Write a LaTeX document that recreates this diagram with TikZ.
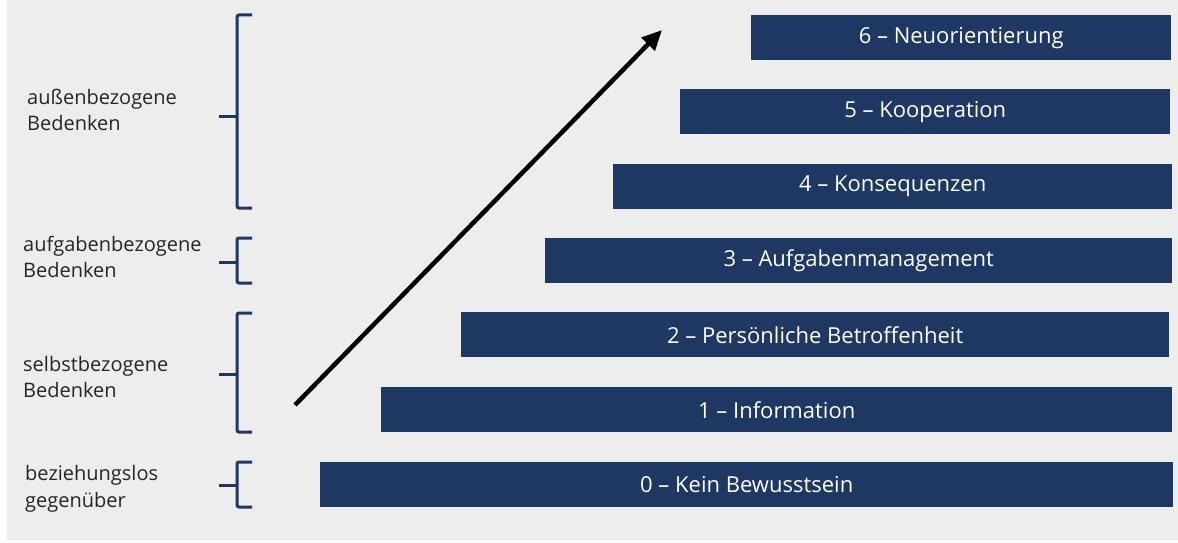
\documentclass[tikz,border=0pt]{standalone}
\usepackage{fontspec}
\setmainfont{Open Sans}
\usetikzlibrary{arrows.meta}
\definecolor{stufenblau}{RGB}{31,55,99}
\definecolor{hintergrund}{RGB}{237,237,237}
\definecolor{schrift}{RGB}{38,38,38}

\begin{document}
\begin{tikzpicture}[x=1pt,y=-1pt,
    stufe/.style={fill=stufenblau,text=white,minimum height=45pt,anchor=north west,inner sep=0pt,font=\fontsize{22}{26}\selectfont},
    klammer/.style={draw=stufenblau,line width=3pt,rounded corners=2pt},
    bedenken/.style={anchor=west,align=left,text=schrift,inner sep=0pt,font=\fontsize{20}{26.5}\selectfont}]
            \fill[white] (0,0) rectangle (1178,543);
            \fill[hintergrund] (7,0) rectangle (1178,540);

            % Stufen
            \node[stufe,minimum width=420pt] (s6) at (751,15) {6 -- Neuorientierung};
            \node[stufe,minimum width=490pt] (s5) at (680,89) {5 -- Kooperation};
            \node[stufe,minimum width=559pt] (s4) at (613,164) {4 -- Konsequenzen};
            \node[stufe,minimum width=627pt] (s3) at (545,238) {3 -- Aufgabenmanagement};
            \node[stufe,minimum width=708pt] (s2) at (461,312) {2 -- Persönliche Betroffenheit};
            \node[stufe,minimum width=791pt] (s1) at (381,387) {1 -- Information};
            \node[stufe,minimum width=853pt] (s0) at (320,462) {0 -- Kein Bewusstsein};

            % Pfeil
            \coordinate (pfeilanfang) at (295,405);
            \coordinate (pfeilende) at (662,30);
            \draw[line width=4.5pt,-{Triangle[length=20pt,width=18pt]}] (pfeilanfang) -- (pfeilende);

            % Klammern
            \draw[klammer] (252,15) -| (237,208) -- (252,208);
            \draw[klammer] (237,116) -- (219,116);
            \draw[klammer] (252,238) -| (237,283) -- (252,283);
            \draw[klammer] (237,262) -- (219,262);
            \draw[klammer] (252,313) -| (237,432) -- (252,432);
            \draw[klammer] (237,374) -- (219,374);
            \draw[klammer] (252,462) -| (237,507) -- (252,507);
            \draw[klammer] (237,485) -- (219,485);

            % Bedenken
            \node[bedenken] (aussen) at (27,110) {außenbezogene\\Bedenken};
            \node[bedenken] (aufgaben) at (23,257) {aufgabenbezogene\\Bedenken};
            \node[bedenken] (selbst) at (23,377) {selbstbezogene\\Bedenken};
            \node[bedenken] (beziehung) at (25,489) {beziehungslos\\gegenüber};
        \end{tikzpicture}
\end{document}
